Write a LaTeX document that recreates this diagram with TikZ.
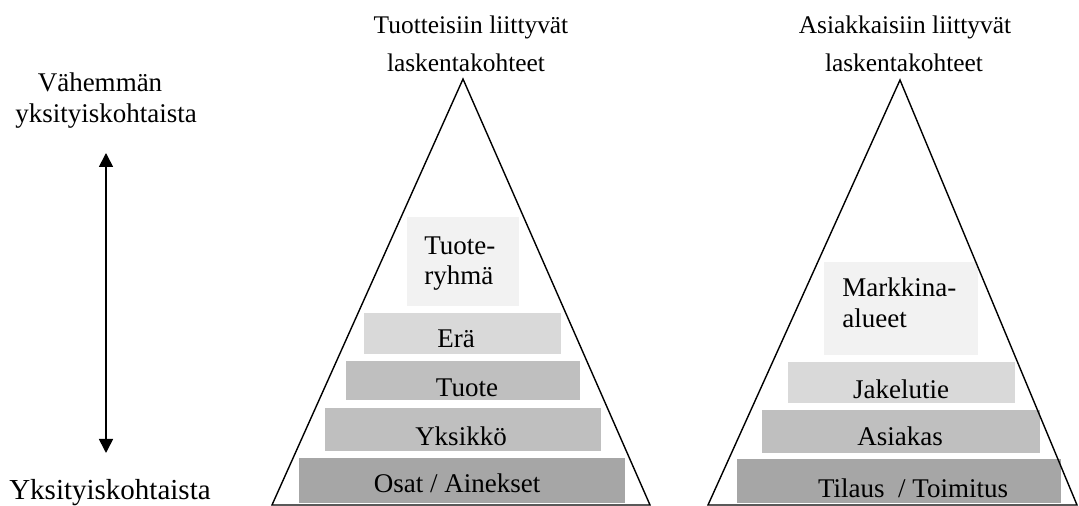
\documentclass[tikz,border=0pt]{standalone}
\usepackage{fontspec}
\setmainfont{Liberation Serif}
\usetikzlibrary{arrows.meta}
\definecolor{gA}{HTML}{F2F2F2}
\definecolor{gB}{HTML}{D9D9D9}
\definecolor{gC}{HTML}{BFBFBF}
\definecolor{gD}{HTML}{A6A6A6}
\begin{document}
\begin{tikzpicture}[x=0.5pt,y=-0.5pt,
  tier/.style={draw=none, inner sep=0pt, outer sep=0pt},
  lbl/.style={inner sep=0pt, anchor=base, font=\fontsize{13.5}{16}\selectfont},
  lblw/.style={inner sep=0pt, anchor=base west, font=\fontsize{13.5}{16}\selectfont},
  ttl/.style={inner sep=0pt, anchor=base, font=\fontsize{12.7}{16}\selectfont},
  pyr/.style={line width=0.7pt, line join=miter},
  dbltip/.style={{Triangle[width=7pt,length=7pt]}-{Triangle[width=7pt,length=7pt]}}
]
\useasboundingbox (0,0) rectangle (1079,506);

% left pyramid tiers
\node[tier, fill=gA, minimum width=56pt,  minimum height=44.5pt] (tr)   at (463,261.5) {};
\node[tier, fill=gB, minimum width=98.5pt, minimum height=20.5pt] (era)  at (462.5,333.5) {};
\node[tier, fill=gC, minimum width=117pt, minimum height=19.5pt] (tuo)  at (463,380.5) {};
\node[tier, fill=gC, minimum width=138pt, minimum height=21.5pt] (yks)  at (463,429.5) {};
\node[tier, fill=gD, minimum width=163pt, minimum height=22.5pt] (osa)  at (462,480.5) {};

% right pyramid tiers
\node[tier, fill=gA, minimum width=77pt,   minimum height=46.5pt] (mk)  at (901,308.5) {};
\node[tier, fill=gB, minimum width=113.5pt, minimum height=20.5pt] (jak) at (901.5,382.5) {};
\node[tier, fill=gC, minimum width=139pt,  minimum height=21.5pt] (asi) at (901,431.5) {};
\node[tier, fill=gD, minimum width=162pt,  minimum height=22pt]   (til) at (899,481) {};

% tier labels
\node[lblw] (trA) at (424,255) {Tuote-};
\node[lblw] (trB) at (424,285) {ryhmä};
\node[lbl] (eraT) at (456,348) {Erä};
\node[lbl] (tuoT) at (467,397) {Tuote};
\node[lbl] (yksT) at (461,445) {Yksikkö};
\node[lbl] (osaT) at (457,493) {Osat / Ainekset};

\node[lblw] (mkA) at (842,297) {Markkina-};
\node[lblw] (mkB) at (842,328) {alueet};
\node[lbl] (jakT) at (901,399) {Jakelutie};
\node[lbl] (asiT) at (900,446) {Asiakas};
\node[lbl] (tilT) at (913,497) {Tilaus\ \ / Toimitus};

% pyramids
\coordinate (LA) at (463,79);
\coordinate (LL) at (272,505);
\coordinate (LR) at (650,505);
\draw[pyr] (LA) -- (LR) -- (LL) -- cycle;
\coordinate (RA) at (900,80);
\coordinate (RL) at (708,505);
\coordinate (RR) at (1077,505);
\draw[pyr] (RA) -- (RR) -- (RL) -- cycle;

% titles
\node[ttl] (t1a) at (471,34) {Tuotteisiin liittyvät};
\node[ttl] (t1b) at (466,72) {laskentakohteet};
\node[ttl] (t2a) at (905,34) {Asiakkaisiin liittyvät};
\node[ttl] (t2b) at (904,72) {laskentakohteet};

% left scale
\node[lbl] (less1) at (100,92) {Vähemmän};
\node[lbl] (less2) at (106,123) {yksityiskohtaista};
\node[lbl, font=\fontsize{14.5}{16}\selectfont] (more) at (110,499) {Yksityiskohtaista};
\coordinate (aTop) at (106,153);
\coordinate (aBot) at (106,453);
\draw[line width=0.8pt, dbltip] (aTop) -- (aBot);
\end{tikzpicture}
\end{document}
